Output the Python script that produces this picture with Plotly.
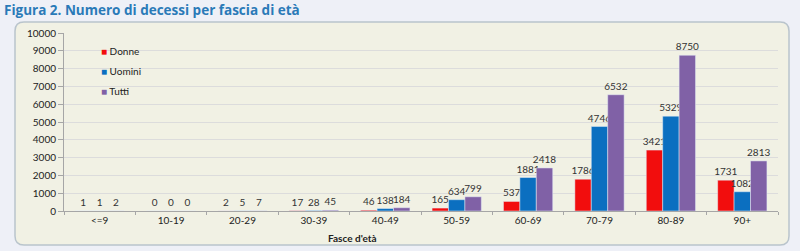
import plotly.graph_objects as go

categories = ["<=9", "10-19", "20-29", "30-39", "40-49", "50-59", "60-69", "70-79", "80-89", "90+"]
donne = [1, 0, 2, 17, 46, 165, 537, 1786, 3421, 1731]
uomini = [1, 0, 5, 28, 138, 634, 1881, 4746, 5329, 1082]
tutti = [2, 0, 7, 45, 184, 799, 2418, 6532, 8750, 2813]
y_ticks = list(range(0, 10001, 1000))

W, H = 800, 251
L, R, T, B = 64, 22, 33, 40
pw, ph = W - L - R, H - T - B

def px(x):
    return (x - L) / pw

def py(y):
    return (H - B - y) / ph

FONT = "Lato, 'Noto Sans', sans-serif"
series = [("Donne", donne, "#f20d0d"), ("Uomini", uomini, "#0b6fc0"), ("Tutti", tutti, "#8061a6")]

fig = go.Figure()
for name, vals, col in series:
    fig.add_trace(go.Bar(
        x=categories, y=vals, name=name, marker_color=col,
        text=[str(v) for v in vals], textposition="outside", constraintext="none",
        textfont=dict(size=10, color="#333333", family=FONT),
        cliponaxis=False, showlegend=False,
    ))

# rounded box
x0, x1, y0, y1, r = px(15), px(789), py(22), py(245), 9
rx, ry = r / pw, r / ph
path = (f"M {x0+rx},{y0} L {x1-rx},{y0} Q {x1},{y0} {x1},{y0-ry} "
        f"L {x1},{y1+ry} Q {x1},{y1} {x1-rx},{y1} L {x0+rx},{y1} "
        f"Q {x0},{y1} {x0},{y1+ry} L {x0},{y0-ry} Q {x0},{y0} {x0+rx},{y0} Z")

annotations = [
    dict(text="<b>Figura 2. Numero di decessi per fascia di età</b>", xref="paper", yref="paper",
         x=px(2), y=py(10), xanchor="left", yanchor="middle", showarrow=False,
         font=dict(size=13.5, color="#2a7ab8", family="'Open Sans', sans-serif")),
    dict(text="<b>Fasce d'età</b>", xref="paper", yref="paper",
         x=px(352), y=py(238), xanchor="center", yanchor="middle", showarrow=False,
         font=dict(size=10, color="#222222", family=FONT)),
]
for i, (name, vals, col) in enumerate(series):
    annotations.append(dict(
        text=f"<span style='color:{col}'>■</span> {name}", xref="paper", yref="paper",
        x=px(99), y=py(51 + 20 * i), xanchor="left", yanchor="middle", showarrow=False,
        font=dict(size=10, color="#222222", family=FONT)))

fig.update_layout(
    width=W, height=H,
    margin=dict(l=L, r=R, t=T, b=B),
    paper_bgcolor="#eef0f7",
    plot_bgcolor="#fcfcf7",
    barmode="group", bargap=0.31, bargroupgap=0.0,
    font=dict(family=FONT, size=10, color="#222222"),
    shapes=[dict(type="path", xref="paper", yref="paper", path=path,
                 fillcolor="#f1f1e4", line=dict(color="#b9c4cc", width=1.5), layer="below")],
    showlegend=False,
    annotations=annotations,
)
fig.update_yaxes(range=[0, 10000], tickvals=y_ticks, ticktext=[str(v) for v in y_ticks],
                 showgrid=True, gridcolor="#dcdcdc",
                 gridwidth=1, showline=True, linecolor="#a6a6a6", ticks="outside",
                 ticklen=5, tickcolor="#a6a6a6", zeroline=False,
                 tickfont=dict(size=10, family=FONT))
fig.update_xaxes(showline=True, linecolor="#a6a6a6", ticks="outside", tickson="boundaries",
                 ticklen=3, tickcolor="#a6a6a6", tickfont=dict(size=10, family=FONT))

fig.write_html("out.html")
